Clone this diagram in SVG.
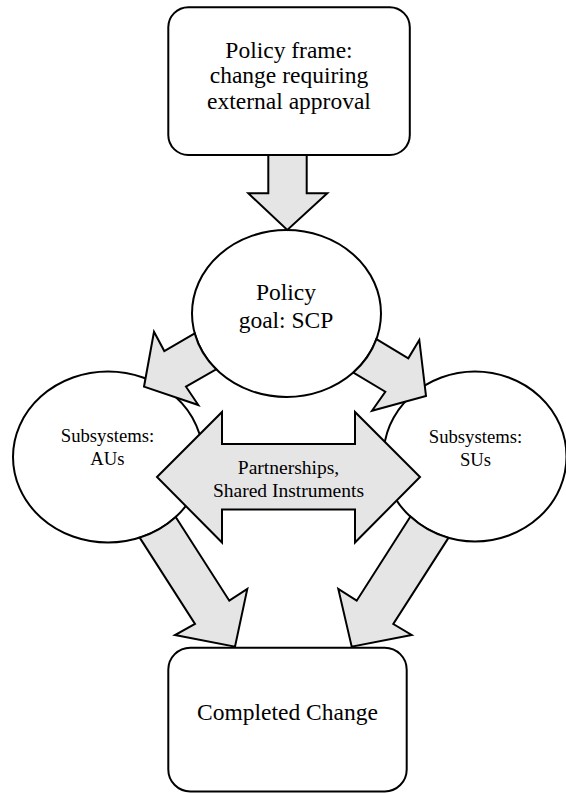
<svg xmlns="http://www.w3.org/2000/svg" width="566" height="793" viewBox="0 0 566 793">
  <style>
    .node { fill: #ffffff; stroke: #000000; stroke-width: 2; }
    .flow { fill: #e5e5e5; stroke: #000000; stroke-width: 2; stroke-linejoin: miter; }
    text { fill: #000000; text-anchor: middle; }
    .big { font-size: 23.5px; }
    .mid { font-size: 19.5px; }
    .small { font-size: 18.7px; }
  </style>

  <rect width="566" height="793" fill="#ffffff"/>

  <g font-family="'Liberation Serif', 'Times New Roman', Tinos, 'DejaVu Serif', serif">
  <!-- Nodes -->
  <g id="policy-frame">
    <rect class="node" x="168.3" y="7.3" width="241.5" height="147.7" rx="20" ry="20"/>
    <text class="big" x="289" y="57.5">Policy frame:</text>
    <text class="big" x="289" y="83">change requiring</text>
    <text class="big" x="289" y="108.5">external approval</text>
  </g>

  <g id="policy-goal">
    <ellipse class="node" cx="286.5" cy="313.5" rx="94.5" ry="83.5"/>
    <text class="big" x="286" y="300">Policy</text>
    <text class="big" x="286" y="328">goal: SCP</text>
  </g>

  <g id="subsystems-aus">
    <ellipse class="node" cx="108" cy="457" rx="95" ry="85.5"/>
    <text class="small" x="107.5" y="442">Subsystems:</text>
    <text class="small" x="107.5" y="464.5">AUs</text>
  </g>

  <g id="subsystems-sus">
    <ellipse class="node" cx="475" cy="456.5" rx="91.5" ry="85"/>
    <text class="small" x="475.5" y="443">Subsystems:</text>
    <text class="small" x="475.5" y="465.5">SUs</text>
  </g>

  <g id="completed-change">
    <rect class="node" x="168.3" y="647.7" width="238.4" height="143.8" rx="22" ry="22"/>
    <text class="big" x="287.5" y="720">Completed Change</text>
  </g>

  <!-- Connectors: block arrows -->
  <g id="connectors">
    <!-- frame to goal -->
    <path class="flow" d="M268.3,155 L268.3,193.3 L248.3,193.3 L287.3,230 L327.3,193.3 L306.7,193.3 L306.7,155 Z"/>
    <!-- goal to AUs -->
    <path class="flow" d="M194.74,333.4 L164.3,351 L154,331.7 L144,386.7 L198.3,405 L186,386.7 L216.18,369.28 A94.5,83.5 0 0 1 194.74,333.4 Z"/>
    <!-- goal to SUs -->
    <path class="flow" d="M376.42,339.14 L408.3,358.3 L419.3,340 L426,396 L372,410.7 L385.3,391.7 L353.36,372.5 A94.5,83.5 0 0 0 376.42,339.14 Z"/>
    <!-- AUs to completed change -->
    <path class="flow" d="M139.7,537.6 L195,624 L175,635 L235,646.7 L247.3,589 L229.3,600.7 L175.7,516.96 A95,85.5 0 0 1 139.7,537.6 Z"/>
    <!-- SUs to completed change -->
    <path class="flow" d="M448.45,537.85 L393.3,624 L411.7,635 L351.7,646.7 L338.3,589 L356.7,600.7 L410.45,516.54 A91.5,85 0 0 0 448.45,537.85 Z"/>
    <!-- AUs <-> SUs -->
    <g id="partnerships">
      <path class="flow" d="M157,477 L222,412 L222,444 L355,444 L355,412 L420,477 L355,542.5 L355,509.5 L222,509.5 L222,542.5 Z"/>
      <text class="mid" x="288.5" y="473.5">Partnerships,</text>
      <text class="mid" x="288.5" y="497">Shared Instruments</text>
    </g>
  </g>
  </g>
</svg>
